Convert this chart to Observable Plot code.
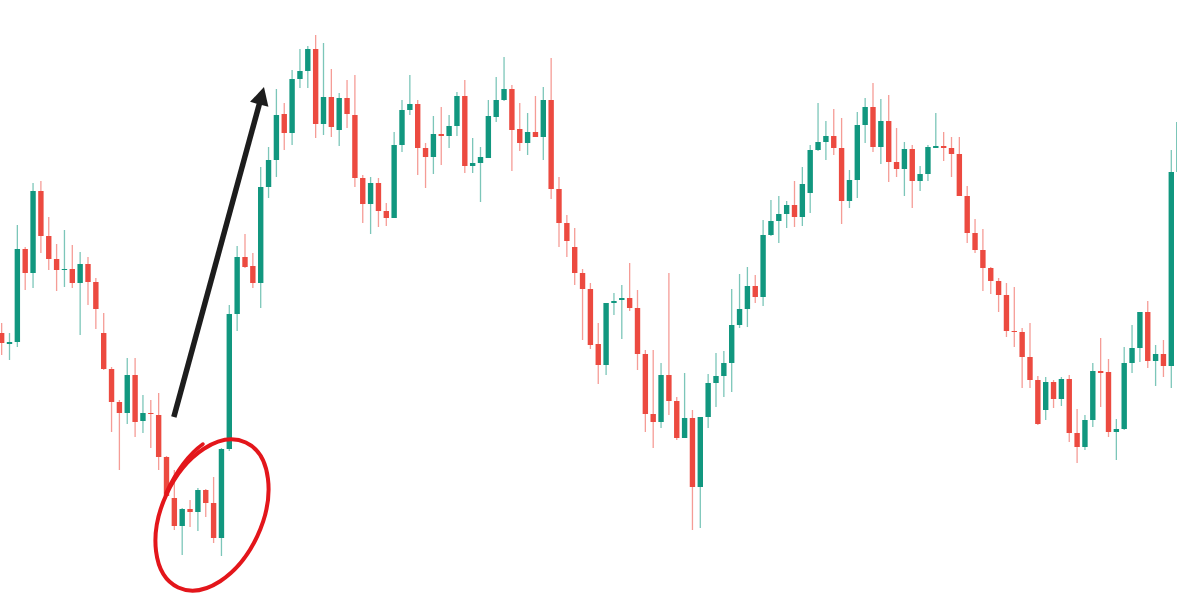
<!DOCTYPE html>
<html>
<head>
<meta charset="utf-8">
<script src="https://cdn.jsdelivr.net/npm/d3@7"></script>
<script src="https://cdn.jsdelivr.net/npm/@observablehq/plot@0.6"></script>
<style>
  html, body { margin: 0; padding: 0; background: #ffffff; }
  #chart svg { display: block; }
</style>
</head>
<body>
<div id="chart"></div>
<script>
// OHLC values (arbitrary price units, higher = up)
const open = [269,258,260,353,329,411,366,343,332,333,319,338,320,269,233,200,189,227,181,189,
  187,145,104,76,93,90,112,99,64,153,288,345,336,319,415,442,488,469,523,531,
  553,478,505,472,504,487,424,398,419,391,384,457,492,498,454,445,468,466,476,506,
  436,439,444,485,502,513,473,459,470,465,502,413,379,355,329,313,258,237,299,302,
  304,294,248,188,180,227,201,164,184,115,185,219,226,239,277,293,316,305,367,381,
  388,397,385,409,452,460,466,454,401,422,477,495,455,481,440,433,453,421,428,454,
  456,454,448,406,369,352,334,321,307,271,270,245,222,192,220,203,223,169,155,182,
  231,230,170,173,239,254,290,241,248,236,430];
const high = [279,269,377,355,419,421,385,358,372,357,350,345,324,289,235,202,244,244,207,202,
  209,146,132,94,102,114,113,125,154,297,356,368,349,435,455,513,499,532,553,556,
  567,559,533,509,522,527,427,425,424,399,470,502,527,502,459,486,495,487,510,522,
  464,455,502,525,545,517,499,489,506,515,544,425,387,374,333,319,279,299,309,317,
  339,312,252,252,239,329,205,229,192,185,228,249,251,313,328,335,327,382,402,406,
  401,421,435,457,499,481,493,484,432,490,504,519,503,507,474,460,457,436,457,489,
  470,465,465,416,383,373,335,324,319,315,274,279,226,225,222,225,227,193,187,239,
  264,243,183,255,277,290,301,257,262,452,482];
const low = [247,242,255,312,314,349,332,311,315,314,267,297,273,232,170,132,178,165,169,154,
  132,105,72,47,75,71,85,59,46,151,271,334,314,294,404,425,452,457,514,514,
  464,467,465,456,474,415,379,368,375,376,384,450,487,427,414,428,437,454,466,429,
  429,400,444,480,501,431,451,447,465,442,403,355,345,317,262,253,218,227,287,263,
  291,232,170,154,174,187,162,164,72,74,174,195,205,210,274,275,299,296,366,359,
  374,375,376,389,451,442,447,378,394,404,459,450,438,420,425,406,394,411,421,454,
  441,425,406,359,349,311,308,290,265,255,214,214,177,182,194,196,160,139,152,175,
  195,165,142,172,229,240,234,216,225,214,430];
const close = [259,260,353,329,411,366,343,332,333,319,338,320,293,233,200,189,227,180,189,188,
  145,106,76,93,90,112,99,64,153,288,345,335,319,415,442,487,469,523,531,553,
  478,505,475,504,488,424,398,419,391,384,457,492,498,454,445,468,466,476,506,436,
  439,445,486,502,513,472,459,470,465,502,413,379,361,329,313,257,237,299,301,304,
  294,248,188,180,227,201,164,184,115,185,219,226,239,277,293,316,305,367,381,388,
  397,385,418,452,460,466,454,401,422,477,495,455,481,440,433,453,421,428,455,456,
  454,448,406,369,352,334,321,307,271,270,245,222,178,220,203,223,169,155,182,231,
  229,170,173,239,254,290,241,248,236,430,480];

// Annotations (candle index, price)
const arrowTail = [22.0, 185];
const arrowTip = [33.48, 515];
const circleCenter = [26.86, 87];

const GREEN = "#11977f";
const RED = "#ec4a40";

const candles = open.map((o, i) => ({
  i, open: o, high: high[i], low: low[i], close: close[i],
  up: close[i] >= o
}));

function annotations(index, scales) {
  const g = d3.create("svg:g");
  // hand-drawn red circle
  const cx = scales.x(circleCenter[0]);
  const cy = scales.y(circleCenter[1]);
  g.append("ellipse")
    .attr("cx", cx).attr("cy", cy)
    .attr("rx", 80).attr("ry", 50)
    .attr("transform", `rotate(-65 ${cx} ${cy})`)
    .attr("fill", "none")
    .attr("stroke", "#e3161b")
    .attr("stroke-width", 4);
  g.append("path")
    .attr("d", `M${cx - 9},${cy - 71} Q${cx - 30},${cy - 56} ${cx - 46},${cy - 22}`)
    .attr("fill", "none")
    .attr("stroke", "#e3161b")
    .attr("stroke-width", 3.5)
    .attr("stroke-linecap", "round");
  // black arrow
  const x1 = scales.x(arrowTail[0]), y1 = scales.y(arrowTail[1]);
  const x2 = scales.x(arrowTip[0]), y2 = scales.y(arrowTip[1]);
  const dx = x2 - x1, dy = y2 - y1, len = Math.hypot(dx, dy);
  const ux = dx / len, uy = dy / len;
  const headL = 18, headW = 9.5;
  const bx = x2 - ux * headL, by = y2 - uy * headL;
  g.append("line")
    .attr("x1", x1).attr("y1", y1)
    .attr("x2", bx + ux * 2).attr("y2", by + uy * 2)
    .attr("stroke", "#1d1d1d")
    .attr("stroke-width", 5.5);
  g.append("path")
    .attr("d", `M${x2},${y2} L${bx - uy * headW},${by + ux * headW} L${bx + uy * headW},${by - ux * headW} Z`)
    .attr("fill", "#1d1d1d");
  return g.node();
}

const chart = Plot.plot({
  width: 1177,
  height: 602,
  margin: 0,
  style: { background: "#ffffff" },
  x: { type: "linear", domain: [0, 150], range: [1.15, 1178.65], axis: null },
  y: { domain: [0, 602], range: [602, 0], axis: null },
  marks: [
    Plot.ruleX(candles, {
      x: "i", y1: "low", y2: "high",
      stroke: d => d.up ? GREEN : RED,
      strokeOpacity: 0.55,
      strokeWidth: 1.3
    }),
    Plot.ruleX(candles, {
      x: "i", y1: "open", y2: "close",
      stroke: d => d.up ? GREEN : RED,
      strokeWidth: 5.4
    }),
    annotations
  ]
});

document.getElementById("chart").appendChild(chart);
</script>
</body>
</html>
